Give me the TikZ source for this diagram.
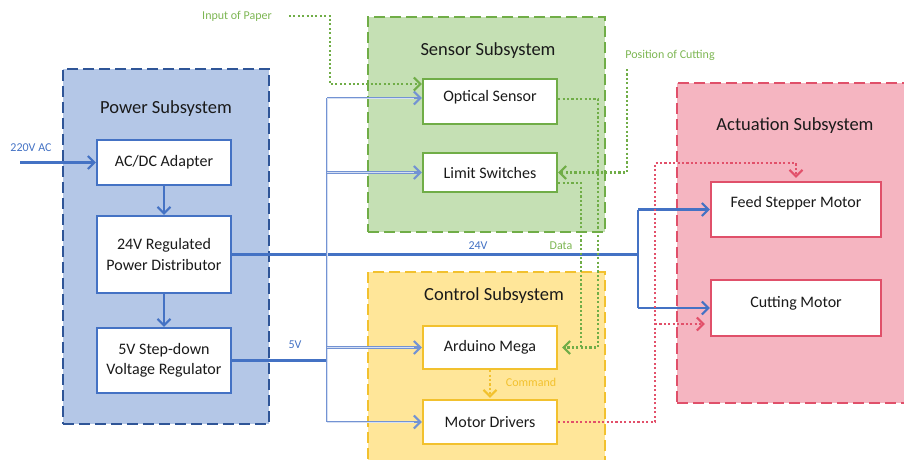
\documentclass[tikz,border=0pt]{standalone}
\usepackage{fontspec}
\setmainfont{Carlito}
\usetikzlibrary{arrows.meta,calc}

\definecolor{pwrfill}{HTML}{B4C7E7}
\definecolor{pwrline}{HTML}{2F5597}
\definecolor{blueln}{HTML}{4472C4}
\definecolor{busln}{HTML}{7393D3}
\definecolor{businner}{HTML}{D6E0F3}
\definecolor{senfill}{HTML}{C5E0B4}
\definecolor{senline}{HTML}{70AD47}
\definecolor{ctlfill}{HTML}{FFE699}
\definecolor{ctlline}{HTML}{F2C12E}
\definecolor{actfill}{HTML}{F5B5C1}
\definecolor{actline}{HTML}{E0506A}
\definecolor{reddot}{HTML}{E2506A}
\definecolor{greenlbl}{HTML}{7DB653}
\definecolor{goldlbl}{HTML}{F2C12E}
\definecolor{ink}{HTML}{1A1A1A}

\tikzset{
  grp/.style={line width=2.5pt, dash pattern=on 11pt off 5pt, minimum width=#1, inner sep=0pt},
  blk/.style={draw, fill=white, line width=2.4pt, inner sep=0pt, align=center,
    text=ink, font=\fontsize{16}{20.5}\selectfont},
  ttl/.style={text=ink, font=\fontsize{18.5}{22}\selectfont, inner sep=0pt},
  lbl/.style={font=\fontsize{12}{14}\selectfont, inner sep=0pt},
  tip/.style={-{Straight Barb[length=6.5pt,width=13pt,line width=2pt]}},
  pwrline/.style={draw=blueln, line width=2.4pt},
  busout/.style={draw=busln, line width=2.8pt},
  busin/.style={draw=businner, line width=1pt},
  gdot/.style={draw=senline, line width=2.1pt, dash pattern=on 2.1pt off 2.3pt},
  rdot/.style={draw=reddot, line width=2.1pt, dash pattern=on 2.1pt off 2.3pt},
  ydot/.style={draw=ctlline, line width=2.1pt, dash pattern=on 2.1pt off 2.3pt},
}

\begin{document}
\begin{tikzpicture}[x=1pt, y=-1pt]
\useasboundingbox (0,0) rectangle (904,459);
\clip (0,0) rectangle (904,459);

% subsystem groups
\node[grp=206pt, minimum height=355pt, draw=pwrline, fill=pwrfill] (pwrg) at (166,246.5) {};
\node[grp=237pt, minimum height=215pt, draw=senline, fill=senfill] (seng) at (486.5,124.5) {};
\node[grp=237pt, minimum height=198pt, draw=ctlline, fill=ctlfill] (ctlg) at (486.5,371) {};
\node[grp=238pt, minimum height=320pt, draw=actline, fill=actfill] (actg) at (796,243) {};

\node[ttl] (pwrt) at (166,109) {Power Subsystem};
\node[ttl] (sent) at (488,51) {Sensor Subsystem};
\node[ttl] (ctlt) at (494,296) {Control Subsystem};
\node[ttl] (actt) at (795,126) {Actuation Subsystem};

% blocks
\node[blk, draw=blueln, minimum width=134pt, minimum height=45pt] (adc) at (164,162.5) {AC/DC Adapter};
\node[blk, draw=blueln, minimum width=134pt, minimum height=77pt] (dist) at (164,254.5) {24V Regulated\\Power Distributor};
\node[blk, draw=blueln, minimum width=134pt, minimum height=65pt] (sdr) at (164,360.5) {5V Step-down\\Voltage Regulator};

\node[blk, draw=senline, minimum width=134pt, minimum height=45pt, text height=11pt, text depth=12pt] (opt) at (490,101.5) {Optical Sensor};
\node[blk, draw=senline, minimum width=134pt, minimum height=39pt] (lim) at (490,172.5) {Limit Switches};

\node[blk, draw=ctlline, minimum width=134pt, minimum height=43pt] (ard) at (490,347.5) {Arduino Mega};
\node[blk, draw=ctlline, minimum width=134pt, minimum height=44pt] (mot) at (490,422) {Motor Drivers};

\node[blk, draw=actline, minimum width=170pt, minimum height=55pt, text height=11pt, text depth=16pt] (feed) at (796,209.5) {Feed Stepper Motor};
\node[blk, draw=actline, minimum width=170pt, minimum height=56pt, text height=11pt, text depth=13pt] (cut) at (796,308) {Cutting Motor};

% power chain
\coordinate (acin) at (20,0);
\node[lbl, text=blueln] (acl) at (31,148) {220V AC};
\draw[pwrline, tip] (acin |- adc.west) -- (adc.west);
\draw[pwrline, tip] (adc.south) -- (dist.north);
\draw[pwrline, tip] (dist.south) -- (sdr.north);

% 24V rail to the motors
\coordinate (v24x) at (638,0);
\node[lbl, text=blueln] (l24) at (478,246) {24V};
\draw[pwrline] (dist.east) -- (v24x |- dist.east);
\draw[pwrline] (v24x |- feed.west) -- (v24x |- cut.west);
\draw[pwrline, tip] (v24x |- feed.west) -- (feed.west);
\draw[pwrline, tip] (v24x |- cut.west) -- (cut.west);

% 5V bus
\coordinate (busx) at (327,0);
\coordinate (optin) at ([yshift=3.5pt]opt.west);
\node[lbl, text=blueln] (l5) at (295,345) {5V};
\draw[pwrline] (sdr.east) -- (busx |- sdr.east);
\draw[busout] (busx |- optin) -- (busx |- mot.west);
\draw[busin] (busx |- optin) -- (busx |- mot.west);
\foreach \t in {optin, lim.west, ard.west, mot.west} {
  \draw[busout, tip] (busx |- \t) -- (\t);
  \draw[busin, shorten >=8pt] (busx |- \t) -- (\t);
}

% sensor data
\node[lbl, text=greenlbl] (inp) at (237,16) {Input of Paper};
\coordinate (inpx) at (330,0);
\coordinate (optg) at ([yshift=17.5pt]opt.west);
\draw[gdot, tip] ([xshift=17pt]inp.east) -| (inpx |- optg) -- (optg);

\node[lbl, text=greenlbl] (poc) at (670,55) {Position of Cutting};
\coordinate (pocs) at (627,69);
\draw[gdot, tip] (pocs) |- (lim.east);

\node[lbl, text=greenlbl] (ldata) at (561,246) {Data};
\coordinate (gx1) at (598,0);
\coordinate (gx2) at (581,0);
\draw[gdot] ([yshift=-10.5pt]lim.east) -| (gx2 |- ard.east);
\draw[gdot, tip, shorten >=4pt] ([yshift=2.5pt]opt.east) -| (gx1 |- ard.east) -- (ard.east);

% command
\node[lbl, text=goldlbl] (lcmd) at (531,382) {Command};
\draw[ydot, tip, shorten >=1pt] (ard.south) -- (mot.north);

% motor drive signals
\coordinate (rx) at (655,0);
\coordinate (ry) at (0,163);
\coordinate (cutin) at ([yshift=-16pt]cut.west);
\draw[rdot, tip, shorten >=3pt] (mot.east) -| (rx |- ry) -| (feed.north);
\draw[rdot, tip, shorten >=5pt] (rx |- cutin) -- (cutin);
\end{tikzpicture}
\end{document}
